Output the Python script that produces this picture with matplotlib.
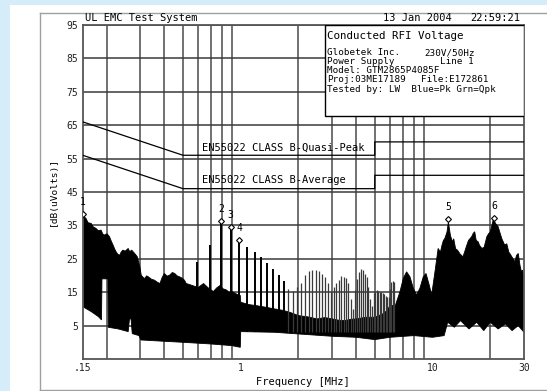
import matplotlib
matplotlib.use("Agg")
import matplotlib.pyplot as plt
from matplotlib.patches import Rectangle
from matplotlib.lines import Line2D

# EN55022 class B limits (MHz, dBuV)
qp_f = [0.15, 0.5, 5, 5, 30]
qp_db = [66, 56, 56, 60, 60]
avg_f = [0.15, 0.5, 5, 5, 30]
avg_db = [56, 46, 46, 50, 50]

# upper edge of the measured trace
top_f = [0.150, 0.153, 0.156, 0.160, 0.166, 0.170, 0.176, 0.181, 0.187, 0.191,
         0.195, 0.201, 0.207, 0.211, 0.216, 0.220, 0.224, 0.229, 0.234, 0.238,
         0.243, 0.250, 0.259, 0.264, 0.270, 0.280, 0.289, 0.298, 0.303, 0.310,
         0.316, 0.323, 0.330, 0.342, 0.355, 0.367, 0.379, 0.390, 0.400, 0.413,
         0.426, 0.440, 0.453, 0.466, 0.480, 0.495, 0.509, 0.520, 0.540, 0.560,
         0.600, 0.640, 0.680, 0.720, 0.750, 0.780, 0.810, 0.840, 0.870, 0.900,
         0.940, 0.970, 0.995, 1.000, 1.100, 1.200, 1.350, 1.500, 1.650, 1.800,
         2.000, 2.250, 2.500, 2.750, 3.000, 3.250, 3.500, 3.750, 4.000, 4.500,
         5.000, 5.500, 5.800, 6.000, 6.400, 6.770, 7.050, 7.330, 7.630, 7.940,
         8.260, 8.600, 8.950, 9.250, 9.620, 9.900, 10.30, 10.70, 11.00, 11.20,
         11.40, 11.60, 11.90, 12.10, 12.40, 12.70, 12.90, 13.20, 13.50, 13.90,
         14.40, 14.70, 15.00, 15.40, 16.00, 16.30, 16.60, 16.90, 17.30, 17.60,
         18.10, 18.60, 19.20, 19.60, 20.00, 20.30, 20.80, 21.30, 22.00, 22.40,
         23.00, 23.80, 24.40, 25.00, 25.30, 26.00, 26.90, 27.40, 28.00, 28.60,
         29.10, 29.50, 30.00]
top_db = [38.5, 37.5, 37.1, 35.8, 35.6, 34.6, 34.1, 33.4, 33.6, 32.4,
          32.1, 32.5, 31.6, 30.4, 29.1, 28.0, 27.1, 26.3, 26.1, 27.0,
          27.6, 27.3, 28.1, 27.1, 27.6, 26.6, 25.6, 22.6, 20.1, 19.4,
          19.1, 19.9, 19.6, 18.9, 18.6, 18.0, 17.6, 19.5, 20.6, 19.8,
          20.1, 20.9, 20.6, 19.9, 19.6, 19.2, 18.6, 17.6, 17.3, 17.0,
          16.4, 17.6, 16.2, 15.2, 16.3, 17.0, 16.0, 15.7, 15.0, 15.2,
          14.6, 14.2, 14.0, 12.0, 11.3, 11.0, 10.5, 10.0, 9.6, 9.0,
          8.0, 7.6, 7.0, 7.4, 7.0, 6.6, 6.5, 6.9, 7.0, 7.5,
          7.5, 8.5, 9.5, 11.0, 11.0, 15.2, 19.2, 21.1, 19.6, 16.2,
          14.2, 16.2, 19.6, 20.6, 17.1, 14.2, 21.1, 28.1, 27.0, 29.0,
          30.5, 31.1, 33.0, 36.0, 32.0, 30.1, 31.0, 28.0, 27.6, 26.5,
          25.6, 27.0, 28.6, 30.5, 31.6, 32.6, 33.1, 30.5, 30.1, 29.0,
          28.1, 28.5, 31.6, 32.5, 33.0, 34.5, 37.0, 35.6, 34.6, 33.1,
          31.0, 29.1, 29.5, 27.0, 26.6, 25.5, 24.1, 26.0, 26.6, 23.0,
          21.1, 21.6, 19.0]

# lower edge of the measured trace
bot_f = [0.150, 0.166, 0.181, 0.188, 0.189, 0.203, 0.204, 0.230, 0.259, 0.263,
         0.268, 0.272, 0.295, 0.302, 0.400, 0.500, 0.700, 0.900, 0.995, 1.000,
         1.500, 2.000, 3.000, 4.000, 5.000, 6.000, 8.000, 10.00, 11.50, 12.00,
         13.00, 14.00, 15.50, 17.00, 18.50, 20.00, 22.00, 24.00, 26.00, 28.00,
         30.00]
bot_db = [10.7, 9.2, 7.7, 6.7, 19.0, 19.0, 4.5, 4.0, 3.2, 7.0,
          7.0, 2.6, 2.0, 0.7, 0.3, 0.0, -0.5, -1.0, -1.5, 3.2,
          3.0, 2.5, 1.8, 1.5, 0.8, 1.5, 2.0, 1.5, 2.0, 6.0,
          4.5, 6.5, 4.0, 6.0, 3.5, 6.0, 4.0, 5.5, 3.5, 5.0,
          3.0]

# switcher harmonics that stand out of the noise
harm_f = [0.591, 0.690, 0.788, 0.887, 0.985, 1.084, 1.182, 1.281, 1.379, 1.478,
          1.576, 1.675, 1.773, 1.872, 1.970, 2.069, 2.167, 2.266, 2.364, 2.463,
          2.561, 2.660, 2.758, 2.857, 2.955, 3.054, 3.152, 3.251, 3.349, 3.448,
          3.546, 3.645, 3.743, 3.842, 3.940, 4.039, 4.137, 4.236, 4.334, 4.433,
          4.531, 4.630, 4.728, 4.827, 4.925, 5.024, 5.122, 5.221, 5.319, 5.418,
          5.516, 5.615, 5.713, 5.812, 5.910, 6.009, 6.107, 6.206, 6.304]
harm_db = [24.0, 29.0, 36.4, 34.6, 30.6, 28.6, 27.0, 25.6, 23.6, 22.0,
           20.2, 18.5, 16.0, 15.5, 16.5, 17.7, 20.2, 21.3, 21.6, 21.5,
           21.2, 20.5, 19.6, 17.7, 15.0, 16.5, 17.7, 18.6, 19.8, 19.7,
           19.3, 17.7, 13.0, 10.0, 15.7, 19.0, 21.1, 21.8, 21.6, 20.5,
           19.5, 16.6, 13.0, 11.0, 14.7, 15.2, 15.7, 15.5, 15.2, 15.0,
           14.7, 14.5, 14.0, 13.5, 13.6, 16.0, 18.2, 18.3, 18.0]

# marked peaks
mark_f = [0.15, 0.788, 0.887, 0.985, 12.1, 20.9]
mark_db = [38.5, 36.4, 34.6, 30.6, 36.8, 37.3]
mark_lbl = ['1', '2', '3', '4', '5', '6']

y_ticks = [5, 15, 25, 35, 45, 55, 65, 75, 85, 95]
x_ticks = [0.15, 1, 10, 30]
x_tick_lbl = ['.15', '1', '10', '30']
x_grid = [0.2, 0.3, 0.4, 0.5, 0.6, 0.7, 0.8, 0.9, 2, 3, 4, 5, 6, 7, 8, 9, 20]

W, H = 547, 391
MONO = 'DejaVu Sans Mono'


def fx(px):
    return px / W


def fy(py):
    return 1 - py / H


fig = plt.figure(figsize=(W / 100, H / 100), dpi=100)
fig.patch.set_facecolor('#d5edf9')
fig.patches.append(Rectangle((fx(10), 0), 1, fy(5), transform=fig.transFigure,
                             facecolor='white', edgecolor='none', zorder=-2))
for xs, ys in [([40, 40], [13, 390]), ([40, 560], [13, 13]), ([40, 560], [390, 390])]:
    fig.lines.append(Line2D([fx(v) for v in xs], [fy(v) for v in ys],
                            transform=fig.transFigure, color='#a0a0a0', lw=1.0,
                            zorder=-1))

ax = fig.add_axes([fx(82.7), fy(359), fx(524) - fx(82.7), fy(25) - fy(359)])
ax.set_facecolor('white')
ax.set_xscale('log')
ax.set_xlim(0.15, 30)
ax.set_ylim(-5, 95)

gcol = '#555555'
for f in x_grid:
    ax.axvline(f, color='#666666', lw=1.3, zorder=1)
for v in y_ticks:
    ax.axhline(v, color='#3a3a3a', lw=1.1, zorder=1)
for s in ax.spines.values():
    s.set_color(gcol)
    s.set_linewidth(1.3)

ax.set_xticks(x_ticks)
ax.set_xticklabels(x_tick_lbl)
ax.minorticks_off()
ax.set_yticks(y_ticks)
ax.tick_params(length=0, labelsize=7, pad=3, colors='#222222')
for lab in ax.get_xticklabels() + ax.get_yticklabels():
    lab.set_family(MONO)

# limit lines
ax.plot(qp_f, qp_db, color='black', lw=0.9, zorder=3)
ax.plot(avg_f, avg_db, color='black', lw=0.9, zorder=3)
ax.text(0.628, 58.2, 'EN55022 CLASS B-Quasi-Peak', family=MONO, fontsize=7.5,
        va='center', ha='left', zorder=4)
ax.text(0.628, 48.6, 'EN55022 CLASS B-Average', family=MONO, fontsize=7.5,
        va='center', ha='left', zorder=4)

# measured trace
ax.fill(top_f + bot_f[::-1], top_db + bot_db[::-1], color='black', lw=0.6, zorder=2)
strong = [(f, v) for f, v in zip(harm_f, harm_db) if f < 1.7]
weak = [(f, v) for f, v in zip(harm_f, harm_db) if f >= 1.7]
ax.vlines([p[0] for p in strong], 3, [p[1] for p in strong], color='black',
          lw=1.4, zorder=2)
ax.vlines([p[0] for p in weak], 3, [p[1] for p in weak], color='#3a3a3a',
          lw=0.9, zorder=2)

ax.plot(mark_f, mark_db, ls='none', marker='D', ms=3, mfc='white', mec='black',
        mew=0.8, zorder=4)
for f, v, t in zip(mark_f, mark_db, mark_lbl):
    ax.annotate(t, (f, v), xytext=(0, 5), textcoords='offset points', ha='center',
                va='bottom', family=MONO, fontsize=7, zorder=4)

# info box
ax.add_patch(Rectangle((0.549, 0.7275), 0.451, 0.2725, transform=ax.transAxes,
                       facecolor='white', edgecolor='black', lw=1.0, zorder=5))
fig.text(fx(327.3), fy(36), 'Conducted RFI Voltage', family=MONO, fontsize=7.8,
         va='center', zorder=6)
info_rows = [(52.7, 'Globetek Inc.', '230V/50Hz', 475),
             (61.7, 'Power Supply', 'Line 1', 474),
             (70.7, 'Model: GTM2865P4085F', '', 0),
             (80.0, 'Proj:03ME17189', 'File:E172861', 489),
             (89.3, 'Tested by: LW  Blue=Pk Grn=Qpk', '', 0)]
for y, left, right, xr in info_rows:
    fig.text(fx(327.3), fy(y), left, family=MONO, fontsize=6.7, va='center', zorder=6)
    if right:
        fig.text(fx(xr), fy(y), right, family=MONO, fontsize=6.7, va='center',
                 ha='right', zorder=6)

# header
fig.text(fx(85), fy(18), 'UL EMC Test System', family=MONO, fontsize=7.5, va='center')
fig.text(fx(383), fy(18), '13 Jan 2004', family=MONO, fontsize=7.5, va='center')
fig.text(fx(520.7), fy(18), '22:59:21', family=MONO, fontsize=7.5, va='center', ha='right')

fig.text(fx(53), fy(191), '[dB(uVolts)]', family=MONO, fontsize=6.8, rotation=90,
         va='center', ha='center')
fig.text(fx(303), fy(382), 'Frequency [MHz]', family=MONO, fontsize=7.5,
         va='center', ha='center')

fig.savefig('out.png', dpi=100, facecolor=fig.get_facecolor())
